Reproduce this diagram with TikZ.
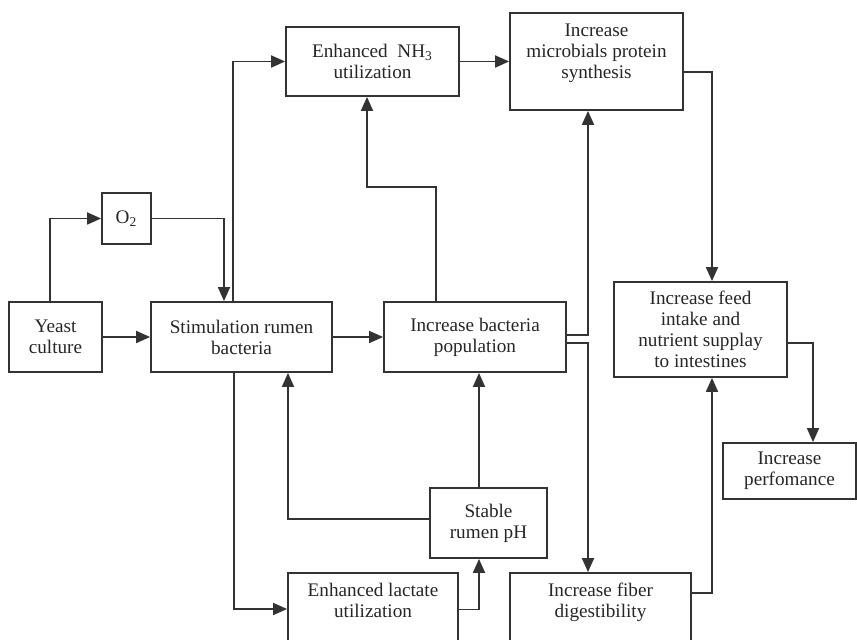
\documentclass[tikz,border=0pt]{standalone}
\usepackage{fontspec}
\setmainfont{Liberation Serif}
\usetikzlibrary{positioning,arrows.meta,calc}
\definecolor{ink}{HTML}{333333}

\begin{document}
\begin{tikzpicture}[x=0.5pt,y=-0.5pt,
  box/.style={draw=ink,line width=0.9pt,inner sep=0pt,align=center,text=black!85,
    font=\fontsize{9.6}{10.5}\selectfont},
  arr/.style={draw=ink,line width=0.9pt,-{Triangle[length=7pt,width=6pt]}}]
\useasboundingbox (0,0) rectangle (857,640);
% boxes (centres in pixel units, y down)
\node[box,minimum width=46.5pt,minimum height=35pt] (yeast) at (55.5,337) {Yeast\\culture};
\node[box,minimum width=24.5pt,minimum height=25.5pt] (otwo) at (126.5,218.5) {O\textsubscript{2}};
\node[box,minimum width=90.5pt,minimum height=35pt] (stim) at (241.5,337) {Stimulation rumen\\bacteria};
\node[box,minimum width=86.5pt,minimum height=34.5pt] (nhthree) at (372.5,61.5) {Enhanced\ \ NH\textsubscript{3}\\utilization};
\node[box,minimum width=86.5pt,minimum height=48.5pt] (micro) at (596.5,61.5) {Increase\\microbials protein\\synthesis\\~};
\node[box,minimum width=91pt,minimum height=35pt] (bact) at (475,337) {Increase bacteria\\population};
\node[box,minimum width=86.5pt,minimum height=47.5pt] (feed) at (700.5,329.5) {Increase feed\\intake and\\nutrient supplay\\to intestines};
\node[box,minimum width=66.5pt,minimum height=28pt] (perf) at (789.5,471) {Increase\\perfomance};
\node[box,minimum width=58.5pt,minimum height=35pt] (ph) at (488.5,523) {Stable\\rumen pH};
\node[box,minimum width=85pt,minimum height=48.5pt] (lact) at (373,621.5) {Enhanced lactate\\utilization\\~\\~};
\node[box,minimum width=90.5pt,minimum height=48.5pt] (fiber) at (600.5,621.5) {Increase fiber\\digestibility\\~\\~};
% connectors
\draw[arr] ([xshift=-2.75pt]yeast.north) |- (otwo.west);
\draw[arr] (otwo.east) -| ([xshift=-8.75pt]stim.north);
\draw[arr] ([xshift=-4.25pt]stim.north) |- (nhthree.west);
\draw[arr] (yeast.east) -- (stim.west);
\draw[arr] (stim.east) -- (bact.west);
\draw[arr] ([xshift=-19.5pt]bact.north) -- ++(0,-114) -| ([xshift=-2.75pt]nhthree.south);
\draw[arr] (nhthree.east) -- (micro.west);
\draw[arr] ([yshift=1pt]bact.east) -| ([xshift=-4.25pt]micro.south);
\draw[arr] ([yshift=-3pt]bact.east) -| ([xshift=-6.25pt]fiber.north);
\draw[arr] ([yshift=-5.25pt]micro.east) -| ([xshift=5.75pt]feed.north);
\draw[arr] ([yshift=-6.75pt]feed.east) -| ([xshift=11.75pt]perf.north);
\draw[arr] ([yshift=14.25pt]fiber.east) -| ([xshift=5.75pt]feed.south);
\draw[arr] ([yshift=2pt]ph.west) -| ([xshift=23.25pt]stim.south);
\draw[arr] ([xshift=-4.75pt]ph.north) -- ([xshift=-4.75pt]ph.north |- bact.south);
\draw[arr] ([xshift=-3.75pt]stim.south) |- ([yshift=6.25pt]lact.west);
\draw[arr] ([yshift=6pt]lact.east) -| ([xshift=-4.75pt]ph.south);
\end{tikzpicture}
\end{document}
